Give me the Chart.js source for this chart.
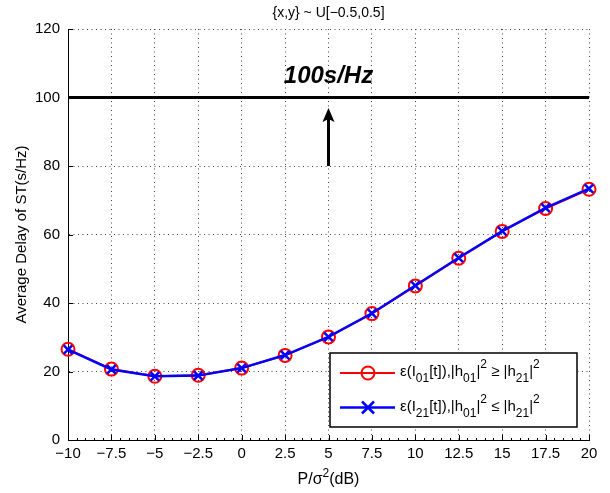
<!DOCTYPE html>
<html>
<head>
<meta charset="utf-8">
<script src="https://cdn.jsdelivr.net/npm/chart.js@4.4.1/dist/chart.umd.min.js"></script>
<style>
  html, body { margin: 0; padding: 0; background: #fff; }
  #wrap { width: 610px; height: 493px; }
</style>
</head>
<body>
<div id="wrap"><canvas id="chart" width="610" height="493"></canvas></div>
<script>
// values
const snrDb = [-10, -7.5, -5, -2.5, 0, 2.5, 5, 7.5, 10, 12.5, 15, 17.5, 20];
const delayI01 = [26.5, 20.7, 18.6, 18.9, 21.0, 24.7, 30.1, 36.9, 45.0, 53.1, 60.9, 67.6, 73.2];
const delayI21 = [26.4, 20.6, 18.6, 18.8, 21.0, 24.8, 30.1, 37.0, 45.1, 53.2, 61.0, 67.8, 73.4];
const limitValue = 100;
const limitLabel = '100s/Hz';
const arrowX = 5, arrowFrom = 80, arrowTo = 96.9, labelY = 104.2;
const xTicks = [-10, -7.5, -5, -2.5, 0, 2.5, 5, 7.5, 10, 12.5, 15, 17.5, 20];
const yTicks = [0, 20, 40, 60, 80, 100, 120];
const titleText = '{x,y} ~ U[\u22120.5,0.5]';
const yTitle = 'Average Delay of ST(s/Hz)';

const FONT = "'Liberation Sans', Arial, Helvetica, sans-serif";

const fmt = v => (v < 0 ? '\u2212' + Math.abs(v) : String(v));
const pts = ys => snrDb.map((x, i) => ({x, y: ys[i]}));

// text with sub/superscripts: parts = [[text, 'n'|'sub'|'sup'], ...]
function richWidth(ctx, parts, size, small) {
  let w = 0;
  parts.forEach(([t, k]) => {
    ctx.font = (k === 'n' ? size : small) + 'px ' + FONT;
    w += ctx.measureText(t).width;
  });
  return w;
}
function drawRich(ctx, x, y, parts, size, small, subDy, supDy) {
  parts.forEach(([t, k]) => {
    ctx.font = (k === 'n' ? size : small) + 'px ' + FONT;
    let dy = 0;
    if (k === 'sub') dy = subDy;
    if (k === 'sup') dy = supDy;
    ctx.fillText(t, x, y + dy);
    x += ctx.measureText(t).width;
  });
}

const legendRows = [
  {color: 'rgb(255,0,0)', marker: 'circle', lw: 2,
   parts: [['\u03b5(I','n'],['01','sub'],['[t]),|h','n'],['01','sub'],['|','n'],['2','sup'],[' \u2265 |h','n'],['21','sub'],['|','n'],['2','sup']]},
  {color: 'rgb(0,0,255)', marker: 'cross', lw: 2.5,
   parts: [['\u03b5(I','n'],['21','sub'],['[t]),|h','n'],['01','sub'],['|','n'],['2','sup'],[' \u2264 |h','n'],['21','sub'],['|','n'],['2','sup']]}
];

const decor = {
  id: 'decor',
  beforeDraw(chart) {
    const ctx = chart.ctx;
    ctx.save();
    ctx.fillStyle = '#fff';
    ctx.fillRect(0, 0, chart.width, chart.height);
    ctx.restore();
  },
  afterDraw(chart) {
    const ctx = chart.ctx, a = chart.chartArea;
    const sx = chart.scales.x, sy = chart.scales.y;
    ctx.save();
    ctx.strokeStyle = '#000';
    ctx.lineWidth = 1;
    // inward ticks
    ctx.beginPath();
    xTicks.forEach(v => {
      const px = Math.round(sx.getPixelForValue(v)) + 0.5;
      ctx.moveTo(px, a.bottom); ctx.lineTo(px, a.bottom - 5);
    });
    for (let v = -10; v <= 20; v += 0.5) {
      const px = Math.round(sx.getPixelForValue(v)) + 0.5;
      ctx.moveTo(px, a.bottom); ctx.lineTo(px, a.bottom - 2);
    }
    yTicks.forEach(v => {
      const py = Math.round(sy.getPixelForValue(v)) + 0.5;
      ctx.moveTo(a.left, py); ctx.lineTo(a.left + 5, py);
    });
    ctx.stroke();

    // arrow pointing at the limit line
    const ax = sx.getPixelForValue(arrowX);
    const y0 = sy.getPixelForValue(arrowFrom), y1 = sy.getPixelForValue(arrowTo);
    ctx.lineWidth = 3;
    ctx.beginPath();
    ctx.moveTo(ax, y0); ctx.lineTo(ax, y1 + 8);
    ctx.stroke();
    ctx.fillStyle = '#000';
    ctx.beginPath();
    ctx.moveTo(ax, y1);
    ctx.lineTo(ax + 6, y1 + 14);
    ctx.lineTo(ax, y1 + 11);
    ctx.lineTo(ax - 6, y1 + 14);
    ctx.closePath();
    ctx.fill();

    // label
    ctx.font = 'italic bold 24px ' + FONT;
    ctx.textAlign = 'center';
    ctx.textBaseline = 'alphabetic';
    ctx.fillText(limitLabel, ax, sy.getPixelForValue(labelY));

    // title
    ctx.font = '14px ' + FONT;
    ctx.textBaseline = 'middle';
    ctx.fillText(titleText, (a.left + a.right) / 2, 13);

    // y title
    ctx.save();
    ctx.translate(22, (a.top + a.bottom) / 2);
    ctx.rotate(-Math.PI / 2);
    ctx.font = '15px ' + FONT;
    ctx.fillText(yTitle, 0, 0);
    ctx.restore();

    // x title with superscript
    ctx.textAlign = 'left';
    ctx.textBaseline = 'alphabetic';
    const xparts = [['P/\u03c3','n'],['2','sup'],['(dB)','n']];
    const xw = richWidth(ctx, xparts, 16, 12);
    drawRich(ctx, (a.left + a.right) / 2 - xw / 2, 484, xparts, 16, 12, 6, -7);

    // legend box
    const bw = 247, bh = 74;
    const bx = a.right - 12 - bw, by = a.bottom - 13 - bh;
    ctx.fillStyle = '#fff';
    ctx.fillRect(bx, by, bw, bh);
    ctx.lineWidth = 1.5;
    ctx.strokeStyle = '#000';
    ctx.strokeRect(bx, by, bw, bh);
    legendRows.forEach((r, i) => {
      const ry = by + 20 + i * 34.5;
      ctx.strokeStyle = r.color;
      ctx.lineWidth = r.lw;
      ctx.beginPath();
      ctx.moveTo(bx + 10, ry); ctx.lineTo(bx + 65, ry);
      ctx.stroke();
      const mx = bx + 38;
      ctx.beginPath();
      if (r.marker === 'circle') {
        ctx.arc(mx, ry, 6.5, 0, Math.PI * 2);
      } else {
        ctx.moveTo(mx - 6, ry - 6); ctx.lineTo(mx + 6, ry + 6);
        ctx.moveTo(mx + 6, ry - 6); ctx.lineTo(mx - 6, ry + 6);
      }
      ctx.stroke();
      ctx.fillStyle = '#000';
      ctx.textBaseline = 'middle';
      drawRich(ctx, bx + 70, ry - 1, r.parts, 15, 12, 7, -7);
    });
    ctx.restore();
  }
};

new Chart(document.getElementById('chart'), {
  type: 'line',
  data: {
    datasets: [
      {
        label: 'I21', data: pts(delayI21), order: 0, clip: false,
        borderColor: 'rgb(0,0,255)', borderWidth: 2.5,
        pointStyle: 'crossRot', pointRadius: 6, pointBorderWidth: 2.5,
        pointBorderColor: 'rgb(0,0,255)', pointBackgroundColor: 'rgb(0,0,255)',
        fill: false, tension: 0
      },
      {
        label: 'I01', data: pts(delayI01), order: 1, clip: false,
        borderColor: 'rgb(255,0,0)', borderWidth: 2,
        pointStyle: 'circle', pointRadius: 6.5, pointBorderWidth: 2,
        pointBorderColor: 'rgb(255,0,0)', pointBackgroundColor: 'rgba(0,0,0,0)',
        fill: false, tension: 0
      },
      {
        label: 'limit', data: [{x: -10, y: limitValue}, {x: 20, y: limitValue}], order: 2, clip: false,
        borderColor: '#000', borderWidth: 3, pointRadius: 0, fill: false
      }
    ]
  },
  options: {
    responsive: false,
    animation: false,
    devicePixelRatio: 1,
    layout: {padding: {top: 29, right: 21, left: 0, bottom: 0}},
    plugins: {legend: {display: false}, tooltip: {enabled: false}, title: {display: false}},
    scales: {
      x: {
        type: 'linear', min: -10, max: 20,
        afterBuildTicks: s => { s.ticks = xTicks.map(v => ({value: v})); },
        afterFit: s => { s.height = 53; },
        ticks: {callback: fmt, color: '#000', font: {family: FONT, size: 15}, padding: 5, maxRotation: 0, autoSkip: false},
        grid: {color: '#444', lineWidth: 1, drawTicks: false},
        border: {display: true, color: '#000', width: 1, dash: [1, 3.5]}
      },
      y: {
        min: 0, max: 120,
        afterBuildTicks: s => { s.ticks = yTicks.map(v => ({value: v})); },
        afterFit: s => { s.width = 68; },
        ticks: {color: '#000', font: {family: FONT, size: 15}, padding: 8},
        grid: {color: '#444', lineWidth: 1, drawTicks: false},
        border: {display: true, color: '#000', width: 1, dash: [1, 3.5]}
      }
    }
  },
  plugins: [decor]
});
</script>
</body>
</html>
